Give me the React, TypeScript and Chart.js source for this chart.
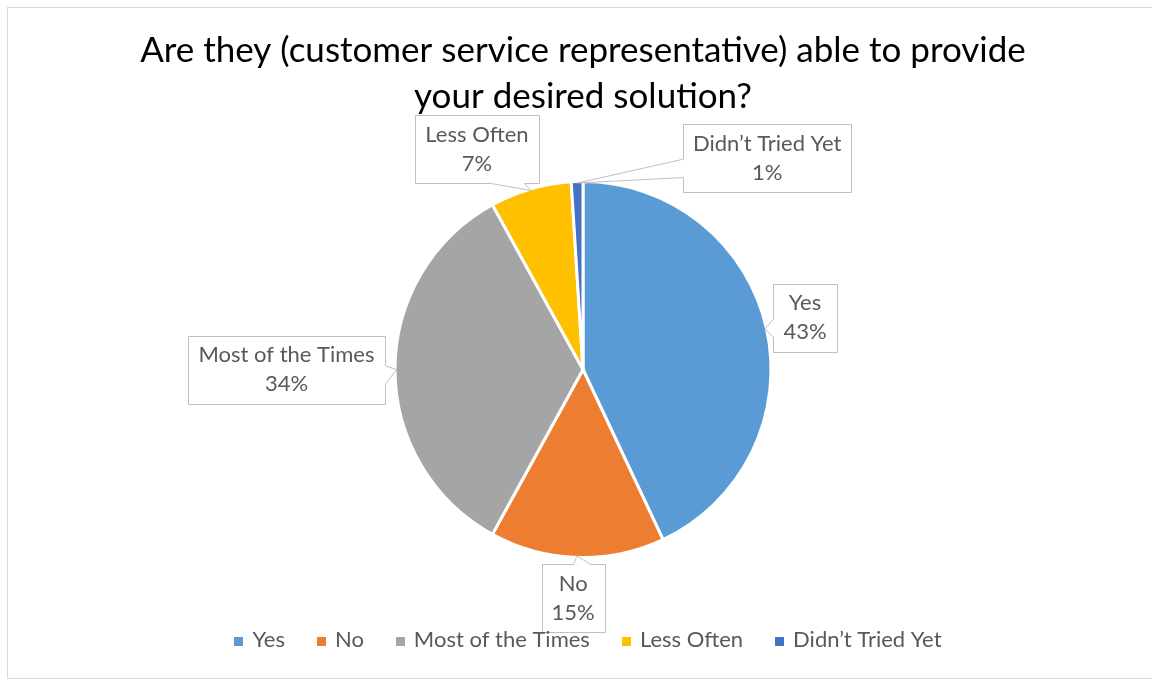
import React, { useEffect, useRef } from "react";
import { Chart, registerables } from "chart.js";

Chart.register(...registerables);

// ---- data ----
const categories = ["Yes", "No", "Most of the Times", "Less Often", "Didn’t Tried Yet"];
const values = [43, 15, 34, 7, 1];
const sliceColors = ["#5B9BD5", "#ED7D31", "#A5A5A5", "#FFC000", "#4472C4"];
const titleLines = [
  "Are they (customer service representative) able to provide",
  "your desired solution?",
];

// ---- styling / layout config (not data) ----
const FONT = "Lato, 'Open Sans', sans-serif";
const TITLE_SIZE = 35;
const LABEL_SIZE = 22;
const TEXT_COLOR = "#595959";
// offset of each callout box centre from its pointer tip
const calloutOffsets: [number, number][] = [
  [40, -11],
  [-4, 42],
  [-110, 0],
  [-54, -41],
  [190, -25],
];

function clamp(v: number, a: number, b: number) {
  return Math.max(a, Math.min(b, v));
}

const decorPlugin = {
  id: "excelDecor",
  afterDraw(chart: any) {
    const ctx: CanvasRenderingContext2D = chart.ctx;
    const W = chart.width;
    const H = chart.height;
    ctx.save();

    // outer chart border
    ctx.strokeStyle = "#D9D9D9";
    ctx.lineWidth = 1;
    ctx.strokeRect(7.5, 7.5, W + 10, H - 8);

    // title
    ctx.fillStyle = "#000000";
    ctx.font = `${TITLE_SIZE}px ${FONT}`;
    ctx.textAlign = "center";
    ctx.textBaseline = "middle";
    ctx.fillText(titleLines[0], 583, 51);
    ctx.fillText(titleLines[1], 583, 97);

    // callouts
    const meta = chart.getDatasetMeta(0);
    const total = values.reduce((a, b) => a + b, 0);
    ctx.font = `${LABEL_SIZE}px ${FONT}`;
    meta.data.forEach((arc: any, i: number) => {
      const p = arc.getProps(["x", "y", "startAngle", "endAngle", "outerRadius"], true);
      const mid = (p.startAngle + p.endAngle) / 2;
      const r = p.outerRadius - 1.5;
      const tx = p.x + Math.cos(mid) * r;
      const ty = p.y + Math.sin(mid) * r;
      const lines = [categories[i], `${Math.round((values[i] / total) * 100)}%`];
      const tw = Math.max(...lines.map((l) => ctx.measureText(l).width));
      const bw = tw + 20;
      const bh = 68;
      const cx = tx + calloutOffsets[i][0];
      const cy = ty + calloutOffsets[i][1];
      const L = Math.round(cx - bw / 2) + 0.5;
      const R = Math.round(cx + bw / 2) + 0.5;
      const T = Math.round(cy - bh / 2) + 0.5;
      const B = Math.round(cy + bh / 2) + 0.5;
      let edge: string;
      if (tx < L) edge = "left";
      else if (tx > R) edge = "right";
      else if (ty < T) edge = "top";
      else edge = "bottom";
      const horiz = edge === "top" || edge === "bottom";
      const start = horiz ? L : T;
      const end = horiz ? R : B;
      const len = end - start;
      const baseLen = Math.max(13, len * 0.27);
      const tc = horiz ? tx : ty;
      const c = clamp(tc + baseLen * 0.3, start + baseLen / 2 + 15, end - baseLen / 2 - 15);
      const b1 = c - baseLen / 2;
      const b2 = c + baseLen / 2;

      ctx.beginPath();
      ctx.moveTo(L, T);
      if (edge === "top") {
        ctx.lineTo(b1, T);
        ctx.lineTo(tx, ty);
        ctx.lineTo(b2, T);
      }
      ctx.lineTo(R, T);
      if (edge === "right") {
        ctx.lineTo(R, b1);
        ctx.lineTo(tx, ty);
        ctx.lineTo(R, b2);
      }
      ctx.lineTo(R, B);
      if (edge === "bottom") {
        ctx.lineTo(b2, B);
        ctx.lineTo(tx, ty);
        ctx.lineTo(b1, B);
      }
      ctx.lineTo(L, B);
      if (edge === "left") {
        ctx.lineTo(L, b2);
        ctx.lineTo(tx, ty);
        ctx.lineTo(L, b1);
      }
      ctx.closePath();
      ctx.fillStyle = "#FFFFFF";
      ctx.fill();
      ctx.strokeStyle = "#BFBFBF";
      ctx.lineWidth = 1;
      ctx.stroke();

      ctx.fillStyle = TEXT_COLOR;
      ctx.textAlign = "center";
      ctx.textBaseline = "middle";
      ctx.fillText(lines[0], cx, cy - 14.5);
      ctx.fillText(lines[1], cx, cy + 14.5);
    });

    // legend
    ctx.font = `${LABEL_SIZE}px ${FONT}`;
    const marker = 9;
    const gap = 9;
    const itemGap = 32;
    const widths = categories.map((c) => marker + gap + ctx.measureText(c).width);
    const totalW = widths.reduce((a, b) => a + b, 0) + itemGap * (categories.length - 1);
    let x = 588 - totalW / 2;
    const ly = 640;
    ctx.textAlign = "left";
    ctx.textBaseline = "middle";
    categories.forEach((c, i) => {
      ctx.fillStyle = sliceColors[i];
      ctx.fillRect(Math.round(x), ly - 3, marker, marker);
      ctx.fillStyle = TEXT_COLOR;
      ctx.fillText(c, x + marker + gap, ly);
      x += widths[i] + itemGap;
    });

    ctx.restore();
  },
};

export default function App() {
  const ref = useRef<HTMLCanvasElement | null>(null);
  useEffect(() => {
    if (!ref.current) return;
    const chart = new Chart(ref.current, {
      type: "pie",
      data: {
        labels: categories,
        datasets: [
          {
            data: values,
            backgroundColor: sliceColors,
            borderColor: "#FFFFFF",
            borderWidth: 3,
            hoverOffset: 0,
            hoverBorderWidth: 3,
          },
        ],
      },
      options: {
        responsive: false,
        maintainAspectRatio: false,
        animation: false,
        events: [],
        layout: { padding: { left: 393.5, right: 379.5, top: 180, bottom: 120 } },
        plugins: {
          legend: { display: false },
          title: { display: false },
          tooltip: { enabled: false },
        },
      },
      plugins: [decorPlugin],
    });
    return () => chart.destroy();
  }, []);
  return (
    <div style={{ position: "absolute", left: 0, top: 0, width: 1152, height: 679, background: "#fff" }}>
      <canvas ref={ref} width={1152} height={679} style={{ display: "block" }} />
    </div>
  );
}
